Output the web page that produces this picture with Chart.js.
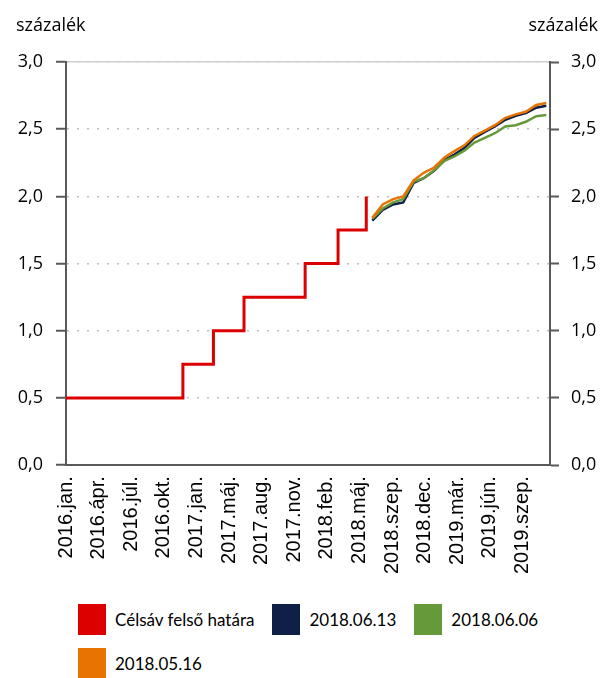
<!doctype html>
<html lang="hu">
<head>
<meta charset="UTF-8">
<title>Célsáv és piaci várakozások</title>
<style>
  body { margin: 0; background: #fff; }
  #wrap { position: relative; width: 608px; height: 598px; }
  #legend { position: absolute; left: 78px; top: 604px; width: 480px; display: flex; flex-wrap: wrap;
            font-family: Lato, sans-serif; font-size: 17px; color: #000; }
  .item { display: flex; align-items: center; height: 31px; margin: 0 18px 13px 0; }
  .box { width: 28px; height: 31px; margin-right: 9px; }
</style>
</head>
<body>
<div id="wrap"><canvas id="myChart"></canvas></div>
<div id="legend"></div>
<script src="https://cdn.jsdelivr.net/npm/chart.js@4.4.1/dist/chart.umd.min.js"></script>
<script>
// Data-----
const stepDates  = ['2016-01-01', '2016-12-14', '2017-03-15', '2017-06-14', '2017-12-13', '2018-03-21', '2018-06-13'];
const stepLevels = [0.5, 0.75, 1.0, 1.25, 1.5, 1.75, 2.0];

// monthly points of the market curves
const curveDates = ['2018-07-01', '2018-08-01', '2018-09-01', '2018-10-01', '2018-11-01', '2018-12-01',
                    '2019-01-01', '2019-02-01', '2019-03-01', '2019-04-01', '2019-05-01', '2019-06-01',
                    '2019-07-01', '2019-08-01', '2019-09-01', '2019-10-01', '2019-11-01', '2019-12-01'];
const curve0613 = [1.82, 1.90, 1.94, 1.955, 2.10, 2.135, 2.19, 2.27, 2.31, 2.36, 2.435, 2.48, 2.52, 2.57, 2.60, 2.62, 2.66, 2.675];
const curve0606 = [1.835, 1.91, 1.955, 1.98, 2.11, 2.135, 2.195, 2.265, 2.295, 2.34, 2.40, 2.435, 2.47, 2.52, 2.53, 2.555, 2.597, 2.605];
const curve0516 = [1.84, 1.94, 1.98, 2.00, 2.12, 2.175, 2.215, 2.29, 2.335, 2.38, 2.45, 2.49, 2.53, 2.585, 2.61, 2.63, 2.68, 2.695];

const tickLabels = ['2016.jan.', '2016.ápr.', '2016.júl.', '2016.okt.', '2017.jan.', '2017.máj.', '2017.aug.', '2017.nov.',
                    '2018.feb.', '2018.máj.', '2018.szep.', '2018.dec.', '2019.már.', '2019.jún.', '2019.szep.'];
// Data-----

const dayNum = (s) => {
  const [y, m, d] = s.split('-').map(Number);
  return (Date.UTC(y, m - 1, d) - Date.UTC(2016, 0, 1)) / 86400000;
};
const xMin = dayNum('2016-01-01');
const xMax = dayNum('2019-12-12');
const labelEvery = 97.1; // days between two axis labels

const toPoints = (dates, values) => dates.map((d, i) => ({x: dayNum(d), y: values[i]}));
const fmt = (v) => v.toFixed(1).replace('.', ',');

// "százalék" above both value axes
const unitLabels = {
  id: 'unitLabels',
  afterDraw(chart) {
    const ctx = chart.ctx;
    ctx.save();
    ctx.font = '18px "Open Sans"';
    ctx.fillStyle = '#000';
    ctx.textBaseline = 'alphabetic';
    ctx.textAlign = 'left';
    ctx.fillText('százalék', 16, 31);
    ctx.textAlign = 'right';
    ctx.fillText('százalék', 598, 31);
    ctx.restore();
  }
};

const yTicks = {
  stepSize: 0.5,
  padding: 13,
  color: '#000',
  font: {family: 'Open Sans', size: 18},
  callback: fmt
};

const config = {
  type: 'line',
  data: {
    datasets: [
      {
        label: 'Célsáv felső határa',
        data: toPoints(stepDates, stepLevels),
        borderColor: '#dc0000',
        backgroundColor: '#dc0000',
        borderWidth: 3,
        stepped: 'before',
        order: 3
      },
      {
        label: '2018.06.13',
        data: toPoints(curveDates, curve0613),
        borderColor: '#0e2045',
        backgroundColor: '#0e2045',
        borderWidth: 2.5,
        order: 2
      },
      {
        label: '2018.06.06',
        data: toPoints(curveDates, curve0606),
        borderColor: '#66993a',
        backgroundColor: '#66993a',
        borderWidth: 2.5,
        order: 1
      },
      {
        label: '2018.05.16',
        data: toPoints(curveDates, curve0516),
        borderColor: '#e97300',
        backgroundColor: '#e97300',
        borderWidth: 2.5,
        order: 0
      }
    ]
  },
  options: {
    responsive: true,
    maintainAspectRatio: false,
    animation: false,
    elements: { point: { radius: 0 }, line: { tension: 0 } },
    layout: { padding: { top: 62, left: 17, right: 11, bottom: 13 } },
    plugins: { legend: { display: false }, tooltip: { enabled: false } },
    scales: {
      x: {
        type: 'linear',
        position: 'bottom',
        min: xMin,
        max: xMax,
        afterBuildTicks(scale) {
          scale.ticks = tickLabels.map((_, i) => ({value: xMin + i * labelEvery}));
        },
        afterFit(scale) {
          scale.paddingLeft = 0;
          scale.paddingRight = 0;
        },
        ticks: {
          autoSkip: false,
          minRotation: 90,
          maxRotation: 90,
          padding: 11,
          color: '#000',
          font: {family: 'Liberation Sans', size: 20},
          callback: (v, i) => tickLabels[i]
        },
        grid: { display: false, drawTicks: false },
        border: { color: '#595959', width: 2 }
      },
      xTop: {
        type: 'linear',
        position: 'top',
        min: xMin,
        max: xMax,
        ticks: { display: false },
        grid: { display: false, drawTicks: false },
        border: { color: '#cfcfcf', width: 1.5 }
      },
      y: {
        position: 'left',
        min: 0,
        max: 3,
        afterFit(scale) { scale.width = 49; },
        ticks: yTicks,
        grid: { color: '#bfbfbf', lineWidth: 1.5, tickColor: '#595959', tickLength: 10, tickWidth: 2 },
        border: { color: '#595959', width: 2, dash: [2, 8] }
      },
      y2: {
        position: 'right',
        min: 0,
        max: 3,
        afterFit(scale) { scale.width = 47; },
        ticks: { ...yTicks, padding: 12 },
        grid: { drawOnChartArea: false, tickColor: '#595959', tickLength: 9, tickWidth: 2 },
        border: { color: '#595959', width: 2 }
      }
    }
  },
  plugins: [unitLabels]
};

const myChart = new Chart(document.getElementById('myChart'), config);

// legend below the chart, built from the datasets
const legend = document.getElementById('legend');
myChart.data.datasets.forEach((ds) => {
  const item = document.createElement('div');
  item.className = 'item';
  const box = document.createElement('span');
  box.className = 'box';
  box.style.background = ds.borderColor;
  const text = document.createElement('span');
  text.textContent = ds.label;
  item.appendChild(box);
  item.appendChild(text);
  legend.appendChild(item);
});
</script>
</body>
</html>
